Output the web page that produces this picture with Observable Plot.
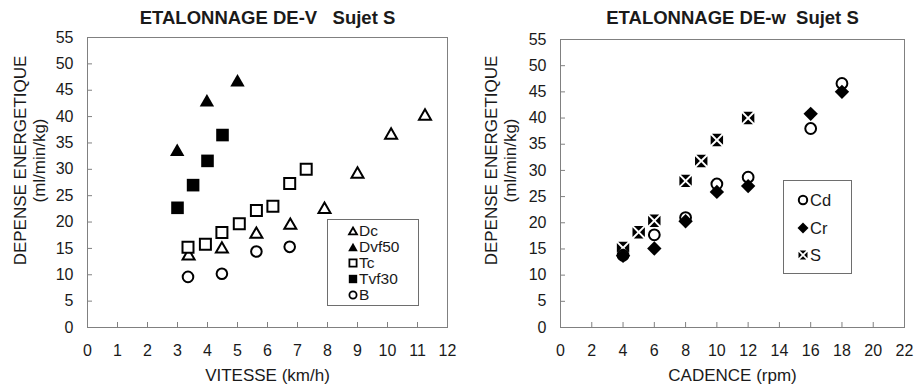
<!DOCTYPE html>
<html><head><meta charset="utf-8">
<script src="https://cdn.jsdelivr.net/npm/d3@7"></script>
<script src="https://cdn.jsdelivr.net/npm/@observablehq/plot@0.6"></script>
<style>
body{margin:0;background:#fff;font-family:"Liberation Sans",Arial,sans-serif;}
#wrap{position:relative;width:914px;height:387px;overflow:hidden;background:#fff}
#left,#right{position:absolute;top:0}
#left{left:0}#right{left:457px}
svg text{white-space:pre}
.legend{position:absolute}
</style></head><body>
<div id="wrap"><div id="left"></div><div id="right"></div></div>
<script>
// ---------- data: left chart (VITESSE km/h) ----------
const dcX    = [3.37, 4.48, 5.63, 6.76, 7.9, 9.0, 10.12, 11.25];
const dcY    = [13.9, 15.2, 18.0, 19.7, 22.7, 29.4, 36.8, 40.4];
const dvf50X = [2.99, 3.98, 5.0];
const dvf50Y = [33.7, 43.1, 46.9];
const tcX    = [3.35, 3.93, 4.48, 5.06, 5.63, 6.18, 6.74, 7.29];
const tcY    = [15.2, 15.8, 18.0, 19.7, 22.2, 23.0, 27.3, 30.0];
const tvf30X = [3.0, 3.52, 4.0, 4.5];
const tvf30Y = [22.7, 27.0, 31.6, 36.5];
const bX     = [3.35, 4.48, 5.63, 6.74];
const bY     = [9.6, 10.2, 14.4, 15.3];

// ---------- data: right chart (CADENCE rpm) ----------
const cdX = [4, 6, 8, 10, 12, 16, 18];
const cdY = [13.8, 17.7, 21.0, 27.4, 28.7, 38.0, 46.6];
const crX = [4, 6, 8, 10, 12, 16, 18];
const crY = [13.7, 15.1, 20.3, 25.9, 27.0, 40.8, 45.0];
const sX  = [4, 5, 6, 8, 9, 10, 12];
const sY  = [15.2, 18.2, 20.4, 28.0, 31.8, 35.8, 40.0];

// ---------- ticks & labels ----------
const yTicks = [0, 5, 10, 15, 20, 25, 30, 35, 40, 45, 50, 55];
const vitesseTicks = [0, 1, 2, 3, 4, 5, 6, 7, 8, 9, 10, 11, 12];
const cadenceTicks = [0, 2, 4, 6, 8, 10, 12, 14, 16, 18, 20, 22];
const leftTitle = "ETALONNAGE DE-V   Sujet S";
const rightTitle = "ETALONNAGE DE-w  Sujet S";
const yTitle = "DEPENSE ENERGETIQUE\n(ml/min/kg)";
const leftXLabel = "VITESSE (km/h)";
const rightXLabel = "CADENCE (rpm)";
const leftSeries = ["Dc", "Dvf50", "Tc", "Tvf30", "B"];
const rightSeries = ["Cd", "Cr", "S"];

// ---------- custom symbols (half-extent = Plot r) ----------
const h = s => Math.sqrt(s / Math.PI);
const symTri = {draw(c, s){ const r = h(s), t = Math.sqrt(3) * r / 2; c.moveTo(0, -t); c.lineTo(r, t); c.lineTo(-r, t); c.closePath(); }};
const symSquare = {draw(c, s){ const r = h(s); c.moveTo(-r, -r); c.lineTo(r, -r); c.lineTo(r, r); c.lineTo(-r, r); c.closePath(); }};
const symCircle = {draw(c, s){ const r = h(s); c.moveTo(r, 0); c.arc(0, 0, r, 0, 2 * Math.PI); c.closePath(); }};
const symDiamond = {draw(c, s){ const r = h(s); c.moveTo(0, -r); c.lineTo(r, 0); c.lineTo(0, r); c.lineTo(-r, 0); c.closePath(); }};
const symSX = {draw(c, s){
  const r = h(s), d = Math.max(1.2, r * 0.22);
  c.moveTo(-r + d, -r); c.lineTo(r - d, -r); c.lineTo(0, -d); c.closePath();
  c.moveTo(-r + d, r); c.lineTo(r - d, r); c.lineTo(0, d); c.closePath();
  c.moveTo(-r, -r + d); c.lineTo(-r, r - d); c.lineTo(-d, 0); c.closePath();
  c.moveTo(r, -r + d); c.lineTo(r, r - d); c.lineTo(d, 0); c.closePath();
}};

const zip = (xs, ys) => xs.map((x, i) => ({x, y: ys[i]}));
const FONT = "Liberation Sans, Arial, Helvetica, sans-serif";
const GRID = "#808080";
const INK = "#1a1a1a";

function chart({marginLeft, marginTop, xDomain, xTicks, title, xLabel, yDx, yDy, marks}) {
  return Plot.plot({
    width: 457, height: 387,
    marginLeft, marginRight: 10, marginTop, marginBottom: 60,
    style: {fontFamily: FONT, fontSize: "16px", color: INK, background: "white", overflow: "visible"},
    x: {domain: xDomain},
    y: {domain: [0, 55]},
    marks: [
      Plot.frame({stroke: GRID}),
      Plot.axisX({ticks: xTicks, tickSize: -5, stroke: GRID, tickFormat: () => "", label: null}),
      Plot.axisX({ticks: xTicks, tickSize: 0, tickPadding: 17, label: null, fill: INK, fontSize: 16}),
      Plot.axisY({ticks: yTicks, tickSize: -5, stroke: GRID, tickFormat: () => "", label: null}),
      Plot.axisY({ticks: yTicks, tickSize: 0, tickPadding: 14, label: null, fill: INK, fontSize: 16}),
      Plot.text([title], {frameAnchor: "top", lineAnchor: "middle", dy: -marginTop + 18, fontWeight: "bold", fontSize: 18.5, fill: INK}),
      Plot.text([xLabel], {frameAnchor: "bottom", lineAnchor: "middle", dy: 48, fontSize: 17, fill: INK}),
      Plot.text([yTitle], {frameAnchor: "left", textAnchor: "middle", lineAnchor: "middle", rotate: -90, dx: yDx, dy: yDy, fontSize: 17, lineHeight: 1.1, fill: INK}),
      ...marks
    ]
  });
}

const left = chart({
  marginLeft: 87, marginTop: 37, xDomain: [0, 12], xTicks: vitesseTicks,
  title: leftTitle, xLabel: leftXLabel, yDx: -58, yDy: -22,
  marks: [
    Plot.dot(zip(dcX, dcY), {x: "x", y: "y", symbol: symTri, r: 6, fill: "white", stroke: "black", strokeWidth: 2}),
    Plot.dot(zip(dvf50X, dvf50Y), {x: "x", y: "y", symbol: symTri, r: 7.2, fill: "black"}),
    Plot.dot(zip(tcX, tcY), {x: "x", y: "y", symbol: symSquare, r: 5.5, fill: "white", stroke: "black", strokeWidth: 2}),
    Plot.dot(zip(tvf30X, tvf30Y), {x: "x", y: "y", symbol: symSquare, r: 6.3, fill: "black"}),
    Plot.dot(zip(bX, bY), {x: "x", y: "y", symbol: symCircle, r: 5.3, fill: "white", stroke: "black", strokeWidth: 2})
  ]
});
document.getElementById("left").appendChild(left);

const right = chart({
  marginLeft: 103, marginTop: 39, xDomain: [0, 22], xTicks: cadenceTicks,
  title: rightTitle, xLabel: rightXLabel, yDx: -60, yDy: -23,
  marks: [
    Plot.dot(zip(cdX, cdY), {x: "x", y: "y", symbol: symCircle, r: 5.4, fill: "white", stroke: "black", strokeWidth: 2}),
    Plot.dot(zip(crX, crY), {x: "x", y: "y", symbol: symDiamond, r: 7.2, fill: "black"}),
    Plot.dot(zip(sX, sY), {x: "x", y: "y", symbol: symSX, r: 6.2, fill: "black"})
  ]
});
document.getElementById("right").appendChild(right);

// ---------- legends ----------
function legend({left, top, width, height, markerX, textX, rowY, fontSize, items}) {
  const svg = d3.select("#wrap").append("svg").attr("class", "legend")
    .style("left", left + "px").style("top", top + "px")
    .attr("width", width).attr("height", height);
  svg.append("rect").attr("x", 0.5).attr("y", 0.5).attr("width", width - 1).attr("height", height - 1)
    .attr("fill", "white").attr("stroke", "#6e6e6e");
  items.forEach((it, i) => {
    const p = d3.path(); it.sym.draw(p, Math.PI * it.r * it.r);
    svg.append("path").attr("d", p.toString())
      .attr("transform", `translate(${markerX},${rowY[i]})`)
      .attr("fill", it.filled ? "black" : "white")
      .attr("stroke", it.filled ? "none" : "black").attr("stroke-width", it.sw || 1.8);
    svg.append("text").attr("x", textX).attr("y", rowY[i]).attr("dy", "0.35em")
      .attr("font-family", FONT).attr("font-size", fontSize).attr("fill", INK).text(it.label);
  });
}
legend({left: 327, top: 219, width: 92, height: 87, markerX: 26, textX: 32, rowY: [12, 28, 44, 60, 76], fontSize: 15.5,
  items: [
    {label: leftSeries[0], sym: symTri, r: 4, filled: false},
    {label: leftSeries[1], sym: symTri, r: 4.8, filled: true},
    {label: leftSeries[2], sym: symSquare, r: 3.6, filled: false},
    {label: leftSeries[3], sym: symSquare, r: 4.2, filled: true},
    {label: leftSeries[4], sym: symCircle, r: 3.6, filled: false}
  ]});
legend({left: 783, top: 180, width: 69, height: 94, markerX: 20, textX: 27, rowY: [20, 48, 75], fontSize: 16.5,
  items: [
    {label: rightSeries[0], sym: symCircle, r: 4.2, filled: false, sw: 2},
    {label: rightSeries[1], sym: symDiamond, r: 5.5, filled: true},
    {label: rightSeries[2], sym: symSX, r: 4.5, filled: true}
  ]});
</script>
</body></html>
